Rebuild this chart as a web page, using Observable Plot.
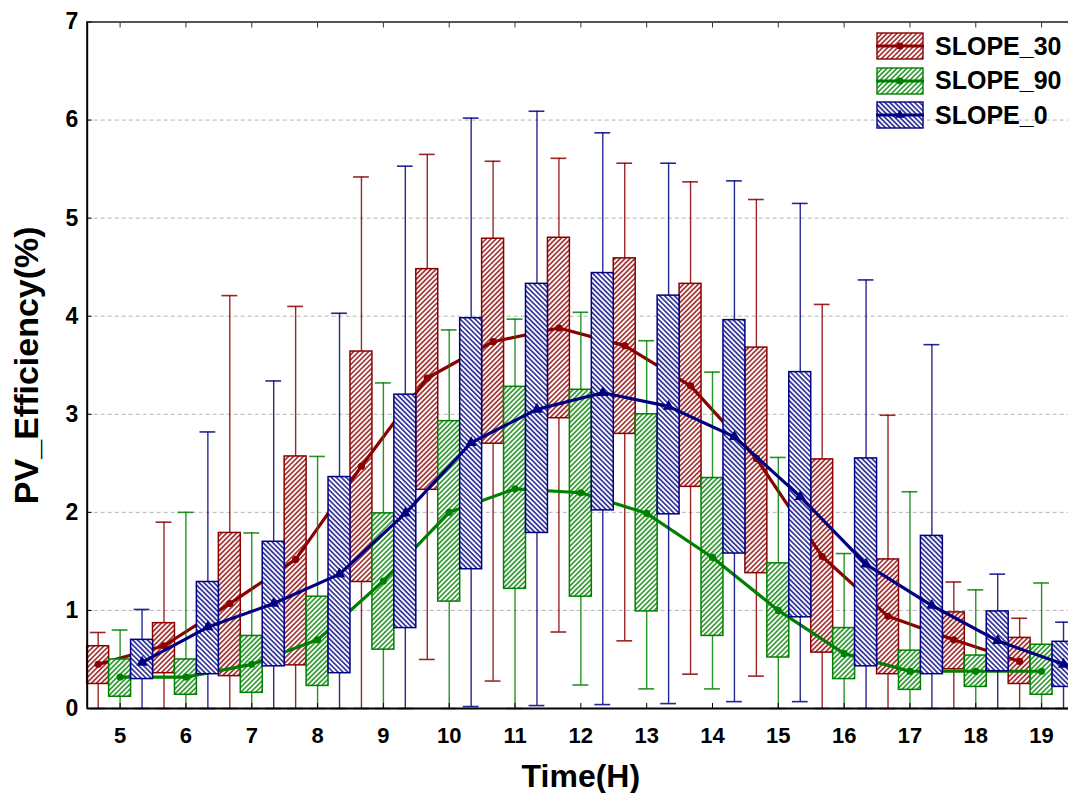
<!DOCTYPE html>
<html>
<head>
<meta charset="utf-8">
<script src="https://cdn.jsdelivr.net/npm/d3@7"></script>
<script src="https://cdn.jsdelivr.net/npm/@observablehq/plot@0.6"></script>
<style>
  html, body { margin: 0; padding: 0; background: #fff; overflow: hidden; }
  #wrap { position: relative; width: 1068px; height: 793px; }
  #legend { position: absolute; left: 876px; top: 32px; font-family: "Liberation Sans", Arial, sans-serif; font-weight: bold; font-size: 25px; color: #000; }
  .item { display: flex; align-items: center; height: 28px; margin-bottom: 6.5px; }
  .item svg { display: block; margin-right: 11px; }
</style>
</head>
<body>
<div id="wrap"><div id="legend"></div></div>
<script>
// ---------------- data ----------------
const hours = [5, 6, 7, 8, 9, 10, 11, 12, 13, 14, 15, 16, 17, 18, 19];
const seriesNames = ["SLOPE_30", "SLOPE_90", "SLOPE_0"];
const seriesColors = ["#8b0000", "#008000", "#000080"];
const yTicks = [0, 1, 2, 3, 4, 5, 6, 7];

// SLOPE_30
const slope30Low  = [0, 0, 0, 0, 0, 0.50, 0.28, 0.78, 0.69, 0.35, 0.33, 0, 0, 0, 0];
const slope30Q1   = [0.25, 0.36, 0.33, 0.44, 1.29, 2.23, 2.70, 2.96, 2.80, 2.26, 1.38, 0.57, 0.35, 0.40, 0.25];
const slope30Q3   = [0.635, 0.87, 1.79, 2.57, 3.64, 4.48, 4.79, 4.80, 4.59, 4.33, 3.68, 2.54, 1.52, 0.98, 0.72];
const slope30High = [0.775, 1.90, 4.21, 4.10, 5.42, 5.65, 5.58, 5.61, 5.56, 5.37, 5.19, 4.12, 2.99, 1.29, 0.92];
const slope30Mean = [0.45, 0.64, 1.07, 1.52, 2.47, 3.37, 3.74, 3.88, 3.70, 3.29, 2.55, 1.55, 0.94, 0.70, 0.48];

// SLOPE_90
const slope90Low  = [0, 0, 0, 0, 0, 0, 0, 0.24, 0.20, 0.20, 0, 0, 0, 0, 0];
const slope90Q1   = [0.12, 0.14, 0.16, 0.23, 0.60, 1.09, 1.22, 1.14, 0.99, 0.74, 0.52, 0.30, 0.19, 0.22, 0.14];
const slope90Q3   = [0.50, 0.50, 0.74, 1.14, 1.99, 2.93, 3.28, 3.25, 3.00, 2.35, 1.48, 0.82, 0.59, 0.54, 0.65];
const slope90High = [0.80, 2.00, 1.79, 2.57, 3.32, 3.86, 3.97, 4.04, 3.75, 3.43, 2.56, 1.58, 2.21, 1.21, 1.28];
const slope90Mean = [0.32, 0.32, 0.45, 0.70, 1.30, 2.00, 2.24, 2.20, 1.99, 1.54, 1.00, 0.56, 0.38, 0.38, 0.38];

// SLOPE_0
const slope0Low  = [0, 0, 0, 0, 0, 0.02, 0.03, 0.04, 0.05, 0.07, 0.07, 0, 0, 0, 0];
const slope0Q1   = [0.30, 0.35, 0.43, 0.36, 0.82, 1.42, 1.79, 2.02, 1.98, 1.58, 0.93, 0.43, 0.35, 0.38, 0.22];
const slope0Q3   = [0.70, 1.29, 1.70, 2.36, 3.20, 3.98, 4.33, 4.44, 4.21, 3.96, 3.43, 2.55, 1.76, 0.99, 0.68];
const slope0High = [1.01, 2.82, 3.34, 4.03, 5.53, 6.02, 6.09, 5.87, 5.56, 5.38, 5.15, 4.37, 3.71, 1.37, 0.88];
const slope0Mean = [0.47, 0.83, 1.07, 1.37, 1.99, 2.71, 3.05, 3.22, 3.08, 2.77, 2.16, 1.47, 1.05, 0.69, 0.45];

const seriesStats = [
  [slope30Low, slope30Q1, slope30Q3, slope30High, slope30Mean],
  [slope90Low, slope90Q1, slope90Q3, slope90High, slope90Mean],
  [slope0Low, slope0Q1, slope0Q3, slope0High, slope0Mean]
];

// ---------------- build table ----------------
const nS = seriesNames.length;
const boxW = 1 / nS;
const capHalf = boxW * 0.36;
const rowsBySeries = seriesNames.map((name, i) => hours.map((h, j) => {
  const [lo, q1, q3, hi, mean] = seriesStats[i].map(a => a[j]);
  return {series: name, hour: h, x: h + (i - (nS - 1) / 2) * boxW, lo, q1, q3, hi, mean};
}));

const xDomain = [hours[0] - 0.5, hours[hours.length - 1] + 0.5];
const yDomain = [yTicks[0], yTicks[yTicks.length - 1]];

const marks = [
  Plot.gridY(yTicks.slice(1, -1), {stroke: "#b4b4b4", strokeOpacity: 1, strokeWidth: 1, strokeDasharray: "4,3"})
];

rowsBySeries.forEach((rows, i) => {
  const color = seriesColors[i];
  marks.push(
    Plot.ruleX(rows, {x: "x", y1: "lo", y2: "hi", stroke: color, strokeWidth: 1.4, strokeOpacity: 0.85}),
    Plot.ruleY(rows, {y: "hi", x1: d => d.x - capHalf, x2: d => d.x + capHalf, stroke: color, strokeWidth: 1.6, strokeOpacity: 0.85}),
    Plot.ruleY(rows, {y: "lo", x1: d => d.x - capHalf, x2: d => d.x + capHalf, stroke: color, strokeWidth: 1.6, strokeOpacity: 0.85}),
    Plot.rect(rows, {x1: d => d.x - boxW / 2, x2: d => d.x + boxW / 2, y1: "q1", y2: "q3", fill: `url(#hatch-${i})`, stroke: color, strokeWidth: 1.5}),
    Plot.line(rows, {x: "x", y: "mean", stroke: color, strokeWidth: 3.2, curve: "linear"}),
    Plot.dot(rows, {x: "x", y: "mean", fill: color, stroke: null, r: i === 2 ? 4.2 : 3.6, symbol: i === 2 ? "triangle" : "circle"})
  );
});

marks.push(
  Plot.ruleY([yDomain[0]], {stroke: "#000", strokeWidth: 2}),
  Plot.ruleY([yDomain[1]], {stroke: "#555", strokeWidth: 2}),
  Plot.ruleX([xDomain[0]], {stroke: "#000", strokeWidth: 2}),
  Plot.axisY({ticks: yTicks, tickSize: -5, tickPadding: 14, tickFormat: d => String(d), fontSize: 23, fontWeight: "bold", label: null, stroke: "#000"}),
  Plot.axisX({ticks: hours, tickSize: -5, tickPadding: 24, tickFormat: d => String(d), fontSize: 22, fontWeight: "bold", label: null, stroke: "#000"}),
  Plot.axisX({anchor: "top", ticks: hours, tickSize: -5, tickPadding: 0, tickFormat: () => "", label: null, stroke: "#333"}),
  Plot.text(["Time(H)"], {frameAnchor: "bottom", dy: 78, lineAnchor: "bottom", fontSize: 32, fontWeight: "bold", fill: "#000"}),
  Plot.text(["PV_Efficiency(%)"], {frameAnchor: "left", dx: -60, rotate: -90, lineAnchor: "middle", textAnchor: "middle", fontSize: 34, fontWeight: "bold", fill: "#000"})
);

const chart = Plot.plot({
  width: 1068,
  height: 793,
  marginLeft: 86.7,
  marginRight: -6,
  marginTop: 21.5,
  marginBottom: 85,
  style: {fontFamily: "'Liberation Sans', Arial, sans-serif", fontWeight: "bold", fontSize: "22px", color: "#000", background: "#fff"},
  x: {domain: xDomain, range: [86.7, 1074]},
  y: {domain: yDomain, range: [708, 21.5]},
  marks
});

// hatch patterns
const svgNS = "http://www.w3.org/2000/svg";
const defs = document.createElementNS(svgNS, "defs");
const hatchSize = 3.5;
seriesColors.forEach((c, i) => {
  const p = document.createElementNS(svgNS, "pattern");
  p.setAttribute("id", `hatch-${i}`);
  p.setAttribute("patternUnits", "userSpaceOnUse");
  p.setAttribute("width", hatchSize);
  p.setAttribute("height", hatchSize);
  p.setAttribute("patternTransform", i === 2 ? "rotate(-45)" : "rotate(45)");
  const bg = document.createElementNS(svgNS, "rect");
  bg.setAttribute("width", hatchSize);
  bg.setAttribute("height", hatchSize);
  bg.setAttribute("fill", "#fff");
  const ln = document.createElementNS(svgNS, "line");
  ln.setAttribute("x1", hatchSize / 2);
  ln.setAttribute("x2", hatchSize / 2);
  ln.setAttribute("y1", 0);
  ln.setAttribute("y2", hatchSize);
  ln.setAttribute("stroke", c);
  ln.setAttribute("stroke-opacity", 0.9);
  ln.setAttribute("stroke-width", 1.5);
  p.appendChild(bg);
  p.appendChild(ln);
  defs.appendChild(p);
});
chart.insertBefore(defs, chart.firstChild);

const wrap = document.getElementById("wrap");
wrap.insertBefore(chart, wrap.firstChild);

// legend
const legend = d3.select("#legend");
seriesNames.forEach((name, i) => {
  const item = legend.append("div").attr("class", "item");
  const s = item.append("svg").attr("width", 48).attr("height", 28);
  s.append("rect").attr("x", 1).attr("y", 1).attr("width", 46).attr("height", 26)
    .attr("fill", `url(#hatch-${i})`).attr("stroke", seriesColors[i]).attr("stroke-width", 1.4);
  s.append("line").attr("x1", 0).attr("x2", 48).attr("y1", 14).attr("y2", 14)
    .attr("stroke", seriesColors[i]).attr("stroke-width", 3);
  if (i === 2) {
    s.append("path").attr("d", d3.symbol(d3.symbolTriangle, 40)()).attr("transform", "translate(24,14)").attr("fill", seriesColors[i]);
  } else {
    s.append("circle").attr("cx", 24).attr("cy", 14).attr("r", 3.6).attr("fill", seriesColors[i]);
  }
  item.append("span").text(name);
});
</script>
</body>
</html>
